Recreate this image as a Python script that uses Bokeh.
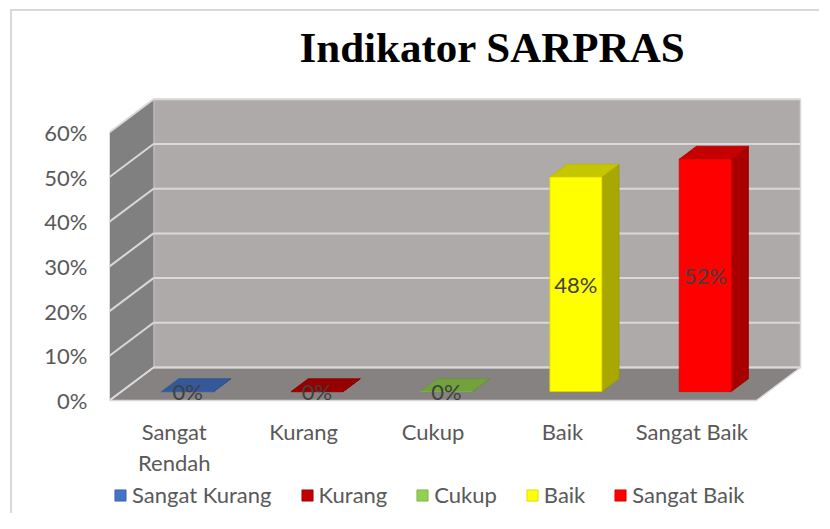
from bokeh.plotting import figure
from bokeh.models import Range1d, FixedTicker, ColumnDataSource, Legend, LegendItem
from bokeh.embed import file_html
from bokeh.resources import INLINE
from bokeh.core.properties import value

# ---------------- data ----------------
categories = ["Sangat Rendah", "Kurang", "Cukup", "Baik", "Sangat Baik"]
category_labels = ["Sangat\nRendah", "Kurang", "Cukup", "Baik", "Sangat Baik"]
series_names = ["Sangat Kurang", "Kurang", "Cukup", "Baik", "Sangat Baik"]
values = [0.0, 0.0, 0.0, 0.48, 0.52]
value_labels = ["0%", "0%", "0%", "48%", "52%"]
colors = ["#4472C4", "#C00000", "#92D050", "#FFFF00", "#FF0000"]
y_ticks = [0.0, 0.1, 0.2, 0.3, 0.4, 0.5, 0.6]
y_tick_labels = ["0%", "10%", "20%", "30%", "40%", "50%", "60%"]
title_text = "Indikator SARPRAS"

# ---------------- style (3-D look) ----------------
DX, DY = 0.340, 0.0738      # wall depth offset (x units, y units)
F, BD = 0.27, 0.39          # bar front position / bar depth as fraction of wall depth
BAR_SHIFT = 0.104           # x shift of bar fronts into the depth
HW = 0.201                  # half bar width
FONT = "Lato"
TXT = "#595959"
PX_Y = 1 / 447.0            # one screen pixel in y units


def shade(hex_color, k):
    h = hex_color.lstrip("#")
    r, g, b = (int(h[i:i + 2], 16) for i in (0, 2, 4))
    return "#%02x%02x%02x" % (int(r * k), int(g * k), int(b * k))


n = len(categories)
ymax = y_ticks[-1]

p = figure(width=809, height=504, output_backend="svg", toolbar_location=None,
           x_range=Range1d(0, 5.3787), y_range=Range1d(-0.2573, 0.7338),
           min_border_left=97, min_border_right=16, min_border_top=61, min_border_bottom=0,
           outline_line_color=None, background_fill_color="white", border_fill_color="white")
p.styles = {"border-left": "2px solid #d9d9d9", "border-top": "2px solid #d9d9d9",
            "margin-left": "10px", "margin-top": "9px"}
p.xgrid.visible = False
p.ygrid.visible = False
p.xaxis.visible = False

# title
p.title.text = title_text
p.title.text_font = "Liberation Serif"
p.title.text_font_style = "bold"
p.title.text_font_size = "43px"
p.title.text_color = "black"
p.title.align = "left"
p.title.offset = 190
p.title.standoff = 3

# y axis
p.yaxis.ticker = FixedTicker(ticks=y_ticks)
p.yaxis.major_label_overrides = {t: l for t, l in zip(y_ticks, y_tick_labels)}
p.yaxis.axis_line_color = None
p.yaxis.major_tick_line_color = None
p.yaxis.minor_tick_line_color = None
p.yaxis.major_label_text_font = FONT
p.yaxis.major_label_text_font_size = "22px"
p.yaxis.major_label_text_color = TXT
p.yaxis.major_label_standoff = 16

# walls and floor
p.quad(left=DX, right=n + DX, bottom=DY, top=ymax + DY,
       fill_color="#AEAAAA", line_color="#D9D9D9", line_width=1.5)
p.patch([0, DX, DX, 0], [0, DY, ymax + DY, ymax], fill_color="#808080", line_color=None)
p.patch([0, n, n + DX, DX], [0, 0, DY, DY], fill_color="#868281",
        line_color="#D9D9D9", line_width=1.5)
p.segment(x0=[DX] * len(y_ticks), y0=[t + DY for t in y_ticks],
          x1=[n + DX] * len(y_ticks), y1=[t + DY for t in y_ticks],
          line_color="#D9D9D9", line_width=2)
p.segment(x0=[0] * len(y_ticks), y0=y_ticks,
          x1=[DX] * len(y_ticks), y1=[t + DY for t in y_ticks],
          line_color="#D9D9D9", line_width=2)

# category labels under the floor
p.text(x=[i + 0.5 for i in range(n)], y=[-18 * PX_Y] * n, text=category_labels,
       text_align="center", text_baseline="top", text_font=value(FONT),
       text_font_size="22px", text_color=TXT, text_line_height=1.14)

# bars
centers = [i + 0.5 + BAR_SHIFT for i in range(n)]
left = [c - HW for c in centers]
right = [c + HW for c in centers]
bottom = [F * DY] * n
top = [v + F * DY for v in values]
bdx, bdy = BD * DX, BD * DY

side_xs = [[r, r + bdx, r + bdx, r] for r in right]
side_ys = [[b, b + bdy, t + bdy, t] for b, t in zip(bottom, top)]
top_xs = [[l, r, r + bdx, l + bdx] for l, r in zip(left, right)]
top_ys = [[t, t, t + bdy, t + bdy] for t in top]

p.patches(side_xs, side_ys, fill_color=[shade(c, 0.66) for c in colors],
          line_color=[shade(c, 0.6) for c in colors], line_width=0.8)
p.patches(top_xs, top_ys, fill_color=[shade(c, 0.78) for c in colors],
          line_color=[shade(c, 0.72) for c in colors], line_width=0.8)

src = ColumnDataSource(dict(left=left, right=right, bottom=bottom, top=top,
                            color=colors, edge=[shade(c, 0.85) for c in colors],
                            name=series_names))
front = p.quad(left="left", right="right", bottom="bottom", top="top", source=src,
               fill_color="color", line_color="edge", line_width=0.8)

# data labels
p.text(x=centers, y=[(b + t) / 2 for b, t in zip(bottom, top)], text=value_labels,
       text_align="center", text_baseline="middle", text_font=value(FONT),
       text_font_size="22px", text_color="#404040")

# legend
items = [LegendItem(label=series_names[i], renderers=[front], index=i) for i in range(n)]
legend = Legend(items=items, orientation="horizontal", location=(4, 7),
                glyph_width=14, glyph_height=14, label_standoff=5, spacing=28,
                padding=0, margin=0, border_line_color=None, background_fill_alpha=0,
                label_text_font=FONT, label_text_font_size="22px", label_text_color=TXT,
                label_height=22)
p.add_layout(legend, "center")

open("out.html", "w").write(file_html(p, INLINE))
